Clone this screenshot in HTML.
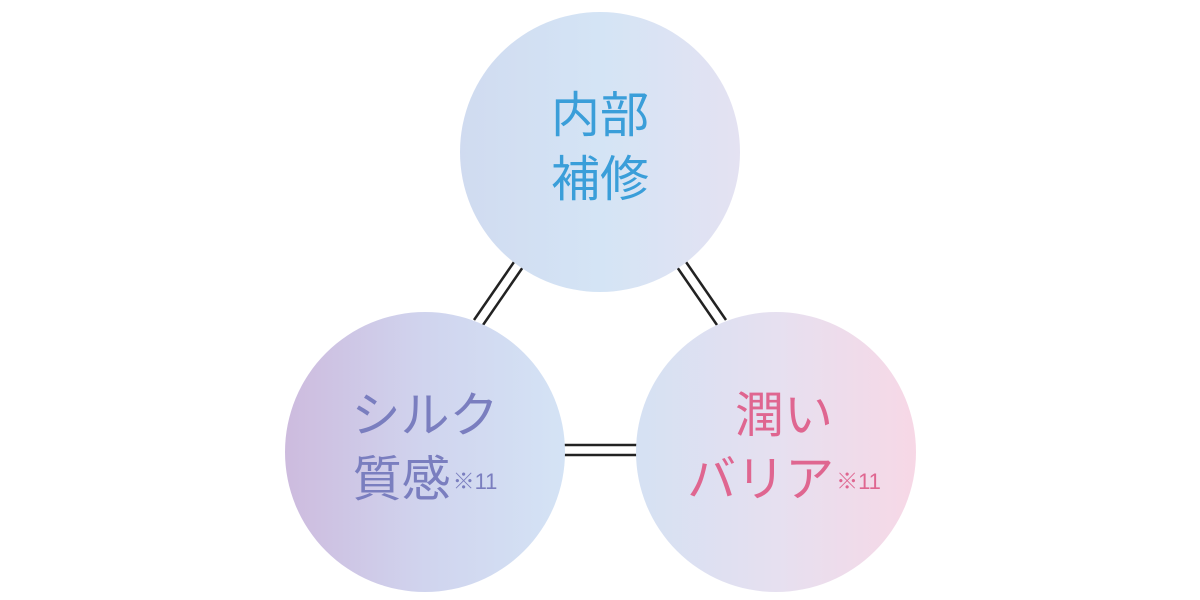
<!DOCTYPE html>
<html><head><meta charset="utf-8"><style>
html,body{margin:0;padding:0;background:#fff;}
body{width:1200px;height:600px;position:relative;overflow:hidden;font-family:"Liberation Sans","Noto Sans CJK JP",sans-serif;}
.c{position:absolute;width:280px;height:280px;border-radius:50%;}
.t{position:absolute;width:280px;text-align:center;font-size:49px;line-height:64px;white-space:nowrap;}
sup{font-size:22px;vertical-align:0;position:relative;top:-7px;margin-left:2px;}
</style></head><body>
<svg width="1200" height="600" style="position:absolute;left:0;top:0">
<g stroke="#222" stroke-width="2.5">
<line x1="474" y1="320" x2="514" y2="262"/><line x1="483" y1="325" x2="523" y2="267"/>
<line x1="686" y1="262" x2="726" y2="320"/><line x1="677" y1="267" x2="717" y2="325"/>
<line x1="563" y1="445" x2="637" y2="445"/><line x1="563" y1="455" x2="637" y2="455"/>
</g></svg>
<div class="c" style="left:460px;top:12px;background:linear-gradient(90deg,#d0dbf0,#d4e4f5 50%,#e4e2f2)"></div>
<div class="c" style="left:285px;top:312px;background:linear-gradient(90deg,#cdbbde,#d0d4ee 50%,#d4e3f5)"></div>
<div class="c" style="left:636px;top:312px;background:linear-gradient(90deg,#d5e1f3,#e6e0f0 50%,#f7d8e6)"></div>
<div class="t" style="left:460px;top:84px;color:#3a9ed9">内部<br>補修</div>
<div class="t" style="left:285px;top:384px;color:#7a7ebf">シルク<br>質感<sup>※11</sup></div>
<div class="t" style="left:644px;top:384px;color:#df6690">潤い<br>バリア<sup>※11</sup></div>
</body></html>
